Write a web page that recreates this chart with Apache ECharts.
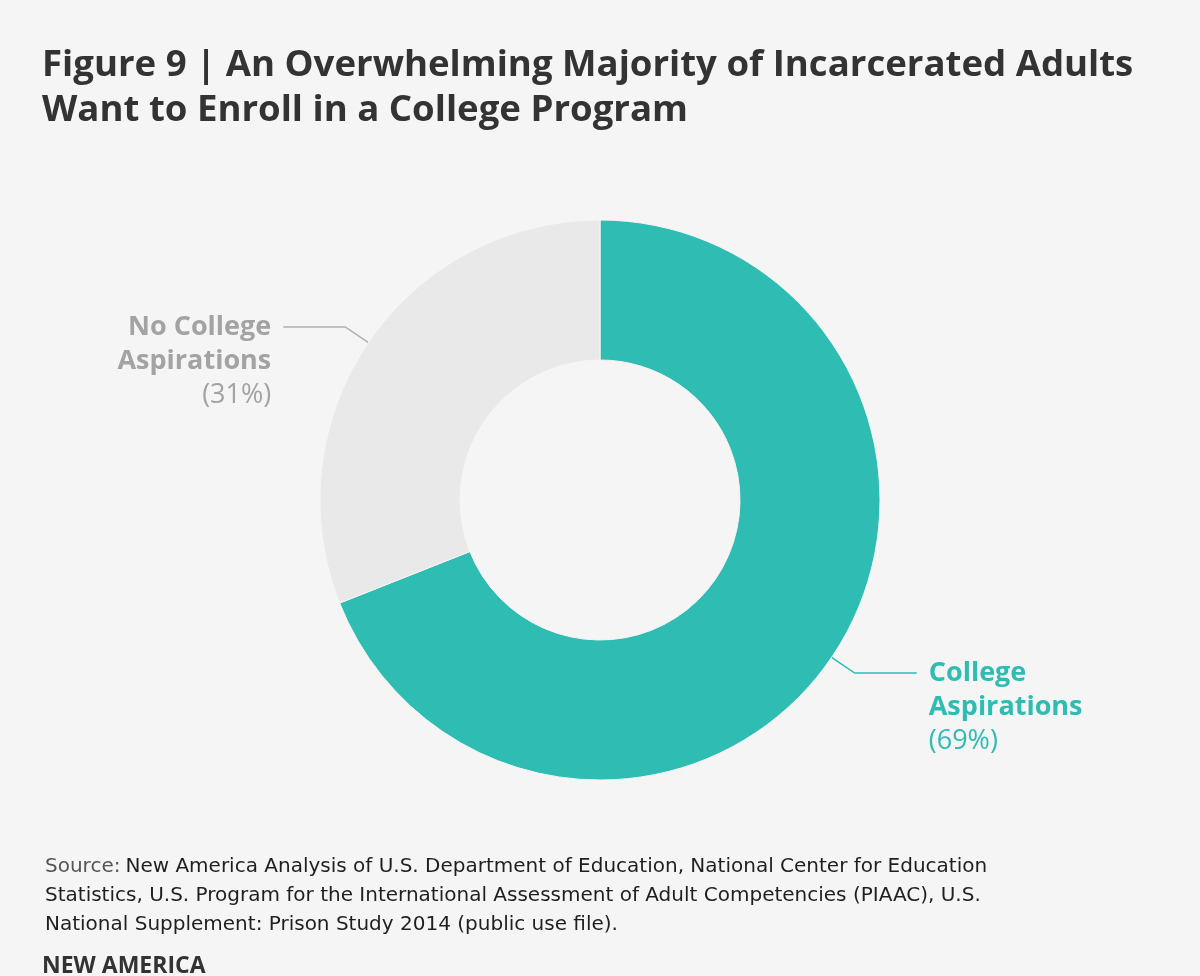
<!DOCTYPE html>
<html>
<head>
<meta charset="utf-8">
<script src="https://cdn.jsdelivr.net/npm/echarts@6/dist/echarts.min.js"></script>
<style>
  html, body { margin: 0; padding: 0; background: #f5f5f5; }
  #chart { width: 1200px; height: 976px; }
</style>
</head>
<body>
<div id="chart"></div>
<script>
const titleLines = ['Figure 9 | An Overwhelming Majority of Incarcerated Adults', 'Want to Enroll in a College Program'];
const categories = ['College\nAspirations', 'No College\nAspirations'];
const values = [69, 31];
const sliceColors = ['#2ebcb3', '#e9e9e9'];
const labelColors = ['#2ebcb3', '#a3a3a3'];
const sourceLabel = 'Source:';
const sourceLines = [
  'New America Analysis of U.S. Department of Education, National Center for Education',
  'Statistics, U.S. Program for the International Assessment of Adult Competencies (PIAAC), U.S.',
  'National Supplement: Prison Study 2014 (public use file).'
];
const brand = 'NEW AMERICA';

const FONT = "'Open Sans', 'DejaVu Sans', sans-serif";
const SRC_FONT = "'DejaVu Sans', 'Open Sans', sans-serif";

const chart = echarts.init(document.getElementById('chart'), null, { renderer: 'canvas' });

const pieData = categories.map((name, i) => ({
  name: name,
  value: values[i],
  itemStyle: { color: sliceColors[i] },
  label: { color: labelColors[i] },
  labelLine: { lineStyle: { color: i === 0 ? labelColors[i] : '#b0b0b0' } }
}));

chart.setOption({
  backgroundColor: '#f5f5f5',
  animation: false,
  title: [
    {
      text: titleLines.join('\n'),
      left: 37,
      top: 38,
      textStyle: {
        fontFamily: FONT,
        fontWeight: 'bold',
        fontSize: 36.6,
        lineHeight: 45,
        color: '#333333'
      }
    },
    {
      text: '{g|' + sourceLabel + '} {b|' + sourceLines[0] + '}\n{b|' + sourceLines[1] + '}\n{b|' + sourceLines[2] + '}',
      left: 40,
      top: 847,
      textStyle: {
        fontWeight: 'normal',
        rich: {
          g: { fontFamily: SRC_FONT, fontWeight: 'normal', fontSize: 20, color: '#555555', lineHeight: 29 },
          b: { fontFamily: SRC_FONT, fontWeight: 'normal', fontSize: 20, color: '#1f1f1f', lineHeight: 29 }
        }
      }
    },
    {
      text: brand,
      left: 37,
      top: 950,
      textStyle: {
        fontFamily: FONT,
        fontWeight: 'bold',
        fontSize: 23,
        color: '#333333'
      }
    }
  ],
  series: [{
    type: 'pie',
    center: [600, 500],
    radius: [140, 280],
    startAngle: 90,
    clockwise: true,
    avoidLabelOverlap: false,
    itemStyle: { borderColor: '#f5f5f5', borderWidth: 1 },
    emphasis: { disabled: true },
    label: {
      show: true,
      position: 'outside',
      alignTo: 'none',
      distanceToLabelLine: 12,
      padding: [68, 0, 0, 0],
      formatter: function (p) {
        const parts = p.name.split('\n');
        return parts.map(s => '{n|' + s + '}').join('\n') + '\n{p|(' + Math.round(p.percent) + '%)}';
      },
      rich: {
        n: { fontFamily: FONT, fontWeight: 'bold', fontSize: 27, lineHeight: 34 },
        p: { fontFamily: FONT, fontWeight: 'normal', fontSize: 27, lineHeight: 34 }
      }
    },
    labelLine: {
      show: true,
      length: 28,
      length2: 62,
      smooth: false,
      lineStyle: { width: 1.5 }
    },
    data: pieData
  }]
});
</script>
</body>
</html>
